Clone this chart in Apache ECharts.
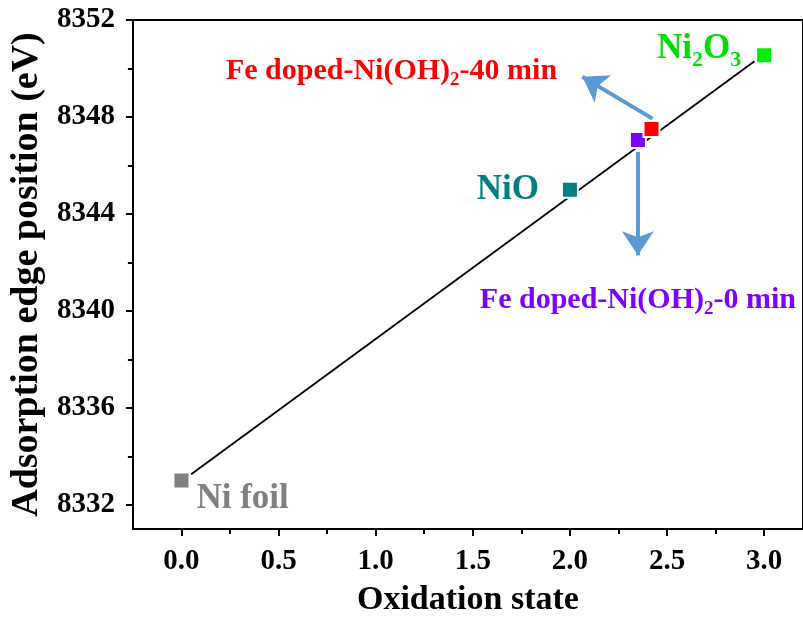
<!DOCTYPE html>
<html><head><meta charset="utf-8">
<script src="https://cdn.jsdelivr.net/npm/echarts@6/dist/echarts.min.js"></script>
<style>html,body{margin:0;padding:0;background:#fff}#c{width:803px;height:622px}</style>
</head><body><div id="c"></div>
<script>
// ---- data ----
const sampleNames = ['Ni foil', 'NiO', 'Ni2O3', 'Fe doped-Ni(OH)2-0 min', 'Fe doped-Ni(OH)2-40 min'];
const labelTexts = ['Ni foil', 'NiO', 'Ni{s|2}O{s|3}', 'Fe doped-Ni(OH){s|2}-0 min', 'Fe doped-Ni(OH){s|2}-40 min'];
const oxidationState = [0, 2.0, 3.0, 2.35, 2.42];
const edgePosition = [8333.0, 8345.0, 8350.55, 8347.05, 8347.5];
const fitX = [0.05, 2.95];
const fitY = [8333.26, 8350.30];
const arrowFrom = [[2.425, 8347.93], [2.35, 8346.56]];
const arrowTo = [[2.064, 8349.66], [2.35, 8342.29]];
const xMajorTicks = [0, 0.5, 1.0, 1.5, 2.0, 2.5, 3.0];
const xMinorTicks = [0.25, 0.75, 1.25, 1.75, 2.25, 2.75];
const yMajorTicks = [8332, 8336, 8340, 8344, 8348, 8352];
const yMinorTicks = [8334, 8338, 8342, 8346, 8350];

// ---- styles ----
const FONT = '"Liberation Serif", "Times New Roman", serif';
const markerColors = ['#808080', '#008080', '#00ee00', '#8000ff', '#ff0000'];
const labelColors = ['#808080', '#007f7f', '#00dd00', '#7f00ff', '#ff0000'];
const labelSizes = [35, 35, 35, 30, 30];
const labelPlace = [
  {position: 'right', distance: 6, offset: [0, 18]},
  {position: 'left', distance: 22, offset: [0, 0]},
  {position: 'left', distance: 14, offset: [0, -6]},
  {position: 'inside', offset: [0, 160]},
  {position: 'inside', offset: [-260, -58]}
];

const X_MIN = -0.25, X_MAX = 3.2, Y_MIN = 8331, Y_MAX = 8352;

const scatterData = oxidationState.map((x, i) => ({
  name: sampleNames[i],
  value: [x, edgePosition[i]],
  itemStyle: {color: markerColors[i], opacity: 1, borderColor: '#fff', borderWidth: 2},
  label: Object.assign({
    show: true,
    formatter: labelTexts[i],
    color: labelColors[i],
    fontFamily: FONT, fontWeight: 'bold', fontSize: labelSizes[i],
    rich: {
      s: {fontFamily: FONT, fontWeight: 'bold', color: labelColors[i],
          fontSize: Math.round(labelSizes[i] * 0.62), padding: [Math.round(labelSizes[i] * 0.62), 0, 0, 0]}
    }
  }, labelPlace[i])
}));

const tickLabelStyle = {color: '#000', fontFamily: FONT, fontWeight: 'bold', fontSize: 29};
const axisLineStyle = {color: '#000', width: 2};

const option = {
  animation: false,
  backgroundColor: '#fff',
  grid: {left: 132, top: 20, right: 0, bottom: 91, containLabel: false},
  xAxis: [
    {type: 'value', min: X_MIN, max: X_MAX, position: 'bottom',
     axisLine: {show: true, onZero: false, lineStyle: axisLineStyle},
     axisTick: {show: true, customValues: xMajorTicks, length: 7, lineStyle: axisLineStyle},
     axisLabel: Object.assign({show: true, customValues: xMajorTicks, margin: 18, formatter: v => v.toFixed(1)}, tickLabelStyle),
     splitLine: {show: false},
     name: 'Oxidation state', nameLocation: 'middle', nameGap: 54,
     nameTextStyle: {color: '#000', fontFamily: FONT, fontWeight: 'bold', fontSize: 34}},
    {type: 'value', min: X_MIN, max: X_MAX, position: 'bottom',
     axisLine: {show: false, onZero: false},
     axisTick: {show: true, customValues: xMinorTicks, length: 5, lineStyle: axisLineStyle},
     axisLabel: {show: false}, splitLine: {show: false}},
    {type: 'value', min: X_MIN, max: X_MAX, position: 'top',
     axisLine: {show: true, onZero: false, lineStyle: axisLineStyle},
     axisTick: {show: false}, axisLabel: {show: false}, splitLine: {show: false}}
  ],
  yAxis: [
    {type: 'value', min: Y_MIN, max: Y_MAX, position: 'left',
     axisLine: {show: true, onZero: false, lineStyle: axisLineStyle},
     axisTick: {show: true, customValues: yMajorTicks, length: 7, lineStyle: axisLineStyle},
     axisLabel: Object.assign({show: true, customValues: yMajorTicks, margin: 18, formatter: v => String(v)}, tickLabelStyle),
     splitLine: {show: false},
     name: 'Adsorption edge position (eV)', nameLocation: 'middle', nameGap: 84, nameRotate: 90,
     nameTextStyle: {color: '#000', fontFamily: FONT, fontWeight: 'bold', fontSize: 38}},
    {type: 'value', min: Y_MIN, max: Y_MAX, position: 'left',
     axisLine: {show: false, onZero: false},
     axisTick: {show: true, customValues: yMinorTicks, length: 5, lineStyle: axisLineStyle},
     axisLabel: {show: false}, splitLine: {show: false}},
    {type: 'value', min: Y_MIN, max: Y_MAX, position: 'right',
     axisLine: {show: true, onZero: false, lineStyle: axisLineStyle},
     axisTick: {show: false}, axisLabel: {show: false}, splitLine: {show: false}}
  ],
  series: [
    {type: 'line', xAxisIndex: 0, yAxisIndex: 0, z: 2,
     data: fitX.map((x, i) => [x, fitY[i]]),
     symbol: 'none', lineStyle: {color: '#000', width: 1.8}, silent: true,
     markLine: {
       silent: true, symbol: ['none', 'arrow'], symbolSize: 24,
       label: {show: false},
       lineStyle: {color: '#5b9bd5', width: 4, type: 'solid', opacity: 1},
       data: arrowFrom.map((p, i) => [{coord: p}, {coord: arrowTo[i]}])
     }},
    {type: 'scatter', xAxisIndex: 0, yAxisIndex: 0, z: 3,
     symbol: 'rect', symbolSize: 16,
     itemStyle: {opacity: 1},
     data: scatterData}
  ]
};

const chart = echarts.init(document.getElementById('c'), null, {renderer: 'canvas'});
chart.setOption(option);
</script>
</body></html>
